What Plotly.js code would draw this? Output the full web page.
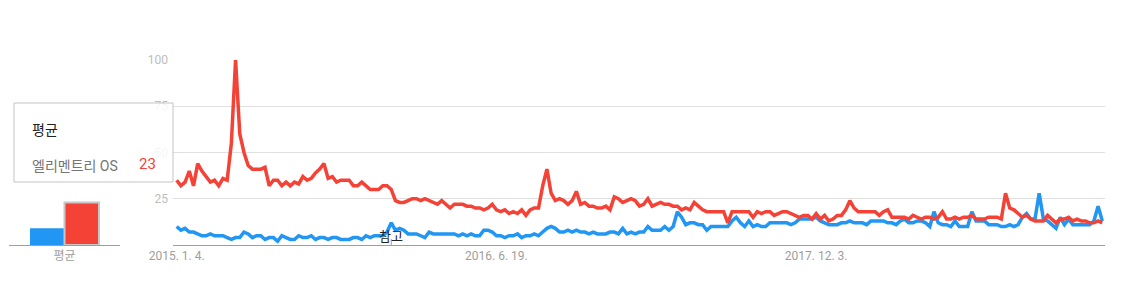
<!DOCTYPE html>
<html>
<head>
<meta charset="utf-8">
<script src="https://cdn.plot.ly/plotly-3.0.1.min.js"></script>
<style>html,body{margin:0;padding:0;background:#fff;}#chart{width:1123px;height:305px;}</style>
</head>
<body>
<div id="chart"></div>
<script>
// ---- data ----
const startDate = '2015-01-04';           // first weekly point
const tickDates = ['2015-01-04', '2016-06-19', '2017-12-03'];
const tickLabels = ['2015. 1. 4.', '2016. 6. 19.', '2017. 12. 3.'];
const seriesNames = ['검색어 1', '엘리멘트리 OS'];
const blueValues = [
10,8,9,7,7,6,5,5,6,5,5,5,4,3,4,4,7,6,4,5,5,3,4,4,2,5,4,3,3,5,4,4,5,3,4,4,3,
4,4,3,3,3,4,4,3,5,4,5,5,5,7,12,8,9,8,6,6,6,5,4,7,6,6,6,6,6,6,5,6,5,6,5,5,8,
8,7,5,5,4,5,5,6,4,5,5,6,5,7,9,10,9,7,7,8,7,8,7,7,6,7,6,6,6,7,7,6,9,6,7,6,7,
7,10,8,8,8,10,8,10,18,15,11,12,12,11,11,8,10,10,10,10,10,13,15,12,10,13,10,11,10,10,12,12,12,12,12,11,12,
14,14,14,14,15,13,12,11,11,11,12,12,13,12,12,12,11,13,13,13,13,12,12,11,13,14,12,12,13,13,12,10,18,12,11,11,10,
13,10,10,10,18,13,13,13,11,11,11,10,10,11,10,11,15,17,14,14,28,14,13,11,9,15,11,14,11,11,11,11,11,13,21,13
];
const redValues = [
35,32,34,40,32,44,40,37,34,35,32,36,35,55,100,60,50,43,41,41,41,42,32,35,35,32,34,32,34,33,37,35,36,39,41,44,36,
37,34,35,35,35,32,32,34,32,30,30,30,32,32,30,24,23,23,24,25,25,24,25,24,23,22,24,22,20,22,22,22,21,21,20,20,19,
20,22,19,18,19,17,18,17,19,16,19,20,20,32,41,28,24,25,24,22,24,29,22,23,21,21,20,20,21,19,26,25,23,24,25,24,21,
22,25,21,22,23,22,22,21,21,19,20,19,23,21,19,18,18,18,18,18,12,18,18,18,18,18,15,18,17,18,18,16,17,18,18,17,16,
15,16,16,14,17,14,16,13,14,16,16,19,24,20,18,18,18,18,18,16,18,19,15,15,15,15,14,16,15,14,15,15,14,15,18,14,14,
15,14,15,15,16,14,14,14,15,15,15,14,28,20,19,17,15,16,14,13,13,13,16,14,12,14,14,15,13,14,13,13,12,12,13,12
];
const avgCategory = ['평균'];
const avgValues = [9, 23];
const noteDate = '2015-12-27';
const noteText = '참고';

// ---- build ----
const DAY = 86400000;
const t0 = Date.parse(startDate + 'T00:00:00Z');
const dates = redValues.map((_, i) => new Date(t0 + i * 7 * DAY).toISOString().slice(0, 10));
const tEnd = t0 + (redValues.length - 1) * 7 * DAY;
const fmt = t => new Date(t).toISOString().slice(0, 19).replace('T', ' ');

const BLUE = '#2196f3', RED = '#f44336';
const W = 1105;
const px = v => v / W;
const py = v => (245 - v) / 185;

const traces = [
  {x: dates, y: blueValues, name: seriesNames[0], type: 'scatter', mode: 'lines',
   line: {color: BLUE, width: 3.5}, xaxis: 'x', yaxis: 'y'},
  {x: dates, y: redValues, name: seriesNames[1], type: 'scatter', mode: 'lines',
   line: {color: RED, width: 3.5}, xaxis: 'x', yaxis: 'y'},
  {x: avgCategory, y: [avgValues[0]], type: 'bar', name: seriesNames[0],
   marker: {color: BLUE}, xaxis: 'x2', yaxis: 'y2'},
  {x: avgCategory, y: [avgValues[1]], type: 'bar', name: seriesNames[1],
   marker: {color: RED, line: {color: '#c8c8c8', width: 2}}, xaxis: 'x2', yaxis: 'y2'}
];

const layout = {
  width: 1123, height: 305,
  margin: {l: 0, r: 18, t: 60, b: 60},
  paper_bgcolor: '#ffffff', plot_bgcolor: '#ffffff',
  showlegend: false, hovermode: false,
  font: {family: 'Roboto, "Noto Sans CJK KR", sans-serif', color: '#9e9e9e'},
  barmode: 'group', bargap: 0.378, bargroupgap: 0,
  xaxis: {
    domain: [px(173), 1], type: 'date',
    range: [fmt(t0 - 6.1 * DAY), fmt(tEnd + 4.5 * DAY)],
    tickvals: tickDates, ticktext: tickLabels,
    showgrid: false, zeroline: false, showline: true, linecolor: '#9e9e9e', linewidth: 1,
    ticks: '', tickfont: {size: 12, color: '#9e9e9e'}
  },
  yaxis: {
    domain: [0, 1], range: [0, 100], tickvals: [25, 50, 75, 100],
    showgrid: true, gridcolor: '#e0e0e0', gridwidth: 1, zeroline: false, showline: false,
    ticks: '', tickfont: {size: 12, color: '#bdbdbd'}, ticklabelstandoff: 4
  },
  xaxis2: {
    domain: [px(9), px(120)], anchor: 'y2', type: 'category',
    showgrid: false, zeroline: false, showline: true, linecolor: '#9e9e9e', linewidth: 1,
    ticks: '', tickfont: {size: 12, color: '#9e9e9e'}
  },
  yaxis2: {domain: [0, 1], anchor: 'x2', range: [0, 100], visible: false},
  shapes: [
    {type: 'rect', xref: 'paper', yref: 'paper', x0: px(14), x1: px(173), y0: py(182), y1: py(103),
     fillcolor: 'rgba(255,255,255,0.85)', line: {color: '#c4c4c4', width: 1}, layer: 'above'},
    {type: 'line', xref: 'x', yref: 'paper', x0: noteDate, x1: noteDate, y0: 0, y1: 6 / 185,
     line: {color: '#9e9e9e', width: 1}}
  ],
  annotations: [
    {xref: 'paper', yref: 'paper', x: px(30), y: py(130), xanchor: 'left', yanchor: 'middle',
     text: '평균', showarrow: false, font: {size: 14, color: '#212121'}},
    {xref: 'paper', yref: 'paper', x: px(30), y: py(166), xanchor: 'left', yanchor: 'middle',
     text: seriesNames[1], showarrow: false, font: {size: 14, color: '#757575'}},
    {xref: 'paper', yref: 'paper', x: px(158), y: py(164), xanchor: 'right', yanchor: 'middle',
     text: String(avgValues[1]), showarrow: false, font: {size: 15, color: RED}},
    {xref: 'x', yref: 'paper', x: noteDate, y: py(236), xanchor: 'center', yanchor: 'middle',
     text: noteText, showarrow: false, font: {size: 13, color: '#212121'}}
  ]
};

Plotly.newPlot('chart', traces, layout, {displayModeBar: false, staticPlot: true});
</script>
</body>
</html>
